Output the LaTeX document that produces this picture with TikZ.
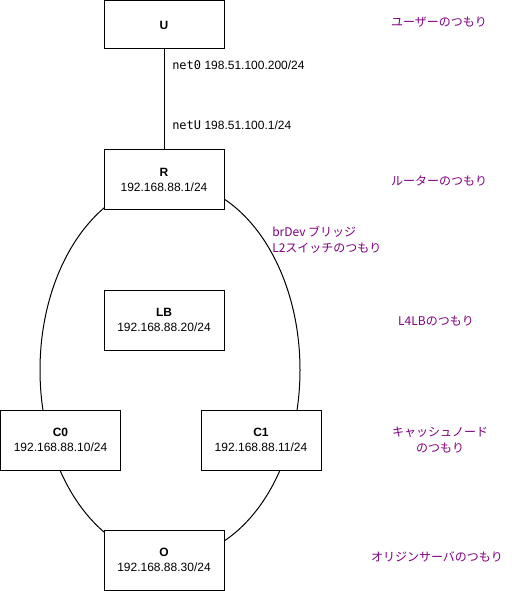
\documentclass[tikz,border=0pt]{standalone}
\usepackage{fontspec}
\setmainfont{Liberation Sans}
\newfontfamily\jpfont{Noto Sans CJK JP}
\newfontfamily\monofont{DejaVu Sans Mono}
\usetikzlibrary{shapes.geometric}
\definecolor{notecol}{HTML}{800080}
\begin{document}
\begin{tikzpicture}[x=0.75pt,y=-0.75pt,
  box/.style={draw, line width=0.75pt, fill=white, minimum width=90pt, minimum height=45pt, inner sep=0pt, align=center, font=\fontsize{9}{11.25}\selectfont},
  notetext/.style={text=notecol, align=center, inner sep=0pt, font=\fontsize{9}{12}\selectfont\jpfont},
  lbl/.style={anchor=west, inner sep=0pt, font=\fontsize{9}{11}\selectfont}]
\useasboundingbox (0,0) rectangle (511,591);
\node[draw, ellipse, line width=0.75pt, minimum width=195pt, minimum height=282pt, inner sep=0pt] (bus) at (170,370) {};
\node[box, minimum height=36pt] (U) at (164,25) {\textbf{U}};
\node[box] (R) at (164,180) {\textbf{R}\\192.168.88.1/24};
\node[box] (LB) at (164,320) {\textbf{LB}\\192.168.88.20/24};
\node[box] (C0) at (60.5,440) {\textbf{C0}\\192.168.88.10/24};
\node[box] (C1) at (261,440) {\textbf{C1}\\192.168.88.11/24};
\node[box] (O) at (164,560) {\textbf{O}\\192.168.88.30/24};
\draw[line width=0.75pt] (U) -- (R);
\node[lbl] (n0) at (172,65) {{\monofont net0} 198.51.100.200/24};
\node[lbl] (nUl) at (172,125) {{\monofont netU} 198.51.100.1/24};
\node[notetext] (nU) at (439,22) {ユーザーのつもり};
\node[notetext] (nR) at (439,181) {ルーターのつもり};
\node[notetext, anchor=west, align=left] (nBr) at (272,240) {brDev ブリッジ\\L2スイッチのつもり};
\node[notetext] (nLB) at (436,321) {L4LBのつもり};
\node[notetext] (nC) at (440,440) {キャッシュノード\\のつもり};
\node[notetext] (nO) at (437,557) {オリジンサーバのつもり};
\end{tikzpicture}
\end{document}
